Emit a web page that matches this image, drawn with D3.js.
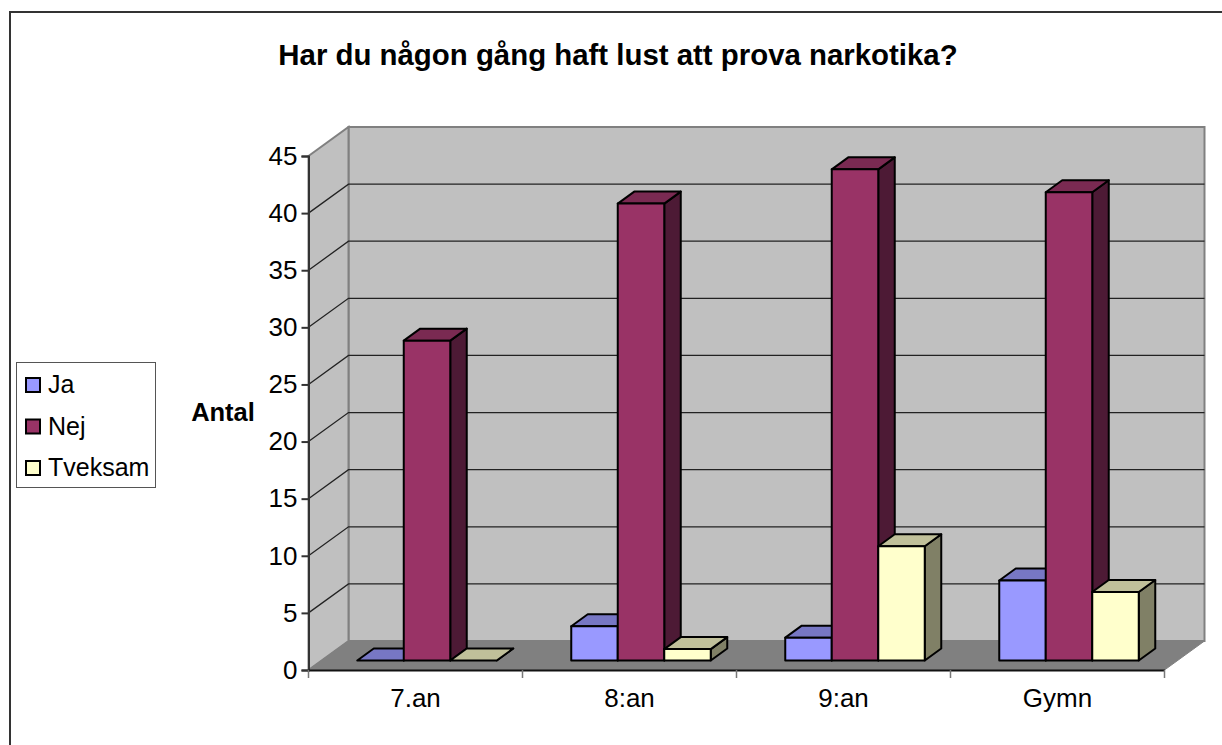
<!DOCTYPE html>
<html>
<head>
<meta charset="utf-8">
<script src="https://cdn.jsdelivr.net/npm/d3@7"></script>
<style>
  body { margin: 0; background: #fff; }
  text { font-family: "Liberation Sans", Arial, sans-serif; fill: #000; }
</style>
</head>
<body>
<svg id="chart" width="1222" height="745"></svg>
<script>
// Chart values
var categories = ['7.an', '8:an', '9:an', 'Gymn'];
var seriesNames = ['Ja', 'Nej', 'Tveksam'];
var ja = [0, 3, 2, 7];
var nej = [28, 40, 43, 41];
var tveksam = [0, 1, 10, 6];
var yTicks = [0, 5, 10, 15, 20, 25, 30, 35, 40, 45];
var titleText = 'Har du någon gång haft lust att prova narkotika?';
var yTitle = 'Antal';

var seriesValues = [ja, nej, tveksam];
var front = ['#9999ff', '#993366', '#ffffcc'];
var topFace = ['#7777c4', '#7a2a52', '#c0c09a'];
var side = ['#5f5f9e', '#4d1a35', '#808066'];

var svg = d3.select('#chart');

// frame of the chart area, right side is cut off by the picture
svg.append('path')
  .attr('d', 'M10,745V12H1222')
  .attr('transform', 'translate(0,0)')
  .attr('fill', 'none').attr('stroke', '#333').attr('stroke-width', 2);

// scales for the front plane
var x = d3.scaleBand().domain(categories).range([308.5, 1164.5]);
var y = d3.scaleLinear().domain([0, 45]).range([670, 156]);

// wall depth
var depthX = 40, depthY = -29;
var x0 = x.range()[0], x1 = x.range()[1];
var y0 = y(0), yTop = y(45);

function poly(points) {
  return 'M' + points.map(function (p) { return p.join(','); }).join('L') + 'Z';
}

// back wall
svg.append('path')
  .attr('d', poly([[x0 + depthX, yTop + depthY], [x1 + depthX, yTop + depthY], [x1 + depthX, y0 + depthY], [x0 + depthX, y0 + depthY]]))
  .attr('fill', '#c0c0c0').attr('stroke', '#808080').attr('stroke-width', 2);
// left wall
svg.append('path')
  .attr('d', poly([[x0, yTop], [x0 + depthX, yTop + depthY], [x0 + depthX, y0 + depthY], [x0, y0]]))
  .attr('fill', '#c0c0c0').attr('stroke', '#808080').attr('stroke-width', 2);
// floor
svg.append('path')
  .attr('d', poly([[x0, y0], [x0 + depthX, y0 + depthY], [x1 + depthX, y0 + depthY], [x1, y0]]))
  .attr('fill', '#808080').attr('stroke', '#808080').attr('stroke-width', 1);

// gridlines on the walls
yTicks.slice(1, -1).forEach(function (t) {
  svg.append('path')
    .attr('d', 'M' + x0 + ',' + y(t) + 'L' + (x0 + depthX) + ',' + (y(t) + depthY) + 'H' + (x1 + depthX))
    .attr('fill', 'none').attr('stroke', '#222').attr('stroke-width', 1.3);
});

// bars
var barW = 46.5, barDepthX = 16.5, barDepthY = -12;
var offX = 11.5, offY = -9.5;
var groupW = barW * seriesNames.length;

function drawBar(c, s) {
  var v = seriesValues[s][c];
  var bx = x(categories[c]) + (x.bandwidth() - groupW) / 2 + offX + s * barW;
  var by = y(v) + offY, bb = y(0) + offY;
  var g = svg.append('g').attr('stroke', '#000').attr('stroke-width', 2).attr('stroke-linejoin', 'round');
  g.append('path').attr('fill', side[s])
    .attr('d', poly([[bx + barW, by], [bx + barW + barDepthX, by + barDepthY], [bx + barW + barDepthX, bb + barDepthY], [bx + barW, bb]]));
  g.append('path').attr('fill', topFace[s])
    .attr('d', poly([[bx, by], [bx + barDepthX, by + barDepthY], [bx + barW + barDepthX, by + barDepthY], [bx + barW, by]]));
  if (v > 0) {
    g.append('rect').attr('x', bx).attr('y', by).attr('width', barW).attr('height', bb - by).attr('fill', front[s]);
  }
}
categories.forEach(function (c, i) {
  seriesNames.forEach(function (n, s) { drawBar(i, s); });
});

// axes
var yAxis = d3.axisLeft(y).tickValues(yTicks).tickSize(7).tickPadding(4);
var gy = svg.append('g').attr('transform', 'translate(' + x0 + ',0)').call(yAxis);
gy.selectAll('text').style('font-size', '26px');
gy.selectAll('line, path').attr('stroke', '#333').attr('stroke-width', 2);

var xAxis = d3.axisBottom(x).tickSize(0).tickPadding(19);
var gx = svg.append('g').attr('transform', 'translate(0,' + y0 + ')').call(xAxis);
gx.selectAll('text').style('font-size', '26px');
gx.select('.domain').attr('stroke', '#111').attr('stroke-width', 2);
// tick marks sit between categories
var xEdges = categories.map(function (c) { return x(c); }).concat([x1]);
gx.selectAll('line.edge').data(xEdges).enter().append('line')
  .attr('class', 'edge')
  .attr('x1', function (d) { return d; }).attr('x2', function (d) { return d; })
  .attr('y1', 0).attr('y2', 8)
  .attr('stroke', '#777').attr('stroke-width', 1.5);

// titles
svg.append('text').attr('x', 618).attr('y', 65).attr('text-anchor', 'middle')
  .style('font-size', '29.4px').style('font-weight', 'bold').text(titleText);
svg.append('text').attr('x', 223).attr('y', 421).attr('text-anchor', 'middle')
  .style('font-size', '25.5px').style('font-weight', 'bold').text(yTitle);

// legend
var legend = svg.append('g');
legend.append('rect').attr('x', 16.5).attr('y', 362.5).attr('width', 139).attr('height', 125)
  .attr('fill', '#fff').attr('stroke', '#555').attr('stroke-width', 1);
seriesNames.forEach(function (n, i) {
  var ly = 385 + i * 41.5;
  legend.append('rect').attr('x', 26).attr('y', ly - 7).attr('width', 14).attr('height', 14)
    .attr('fill', front[i]).attr('stroke', '#000').attr('stroke-width', 2);
  legend.append('text').attr('x', 48).attr('y', ly + 8).style('font-size', '25px').text(n);
});
</script>
</body>
</html>
